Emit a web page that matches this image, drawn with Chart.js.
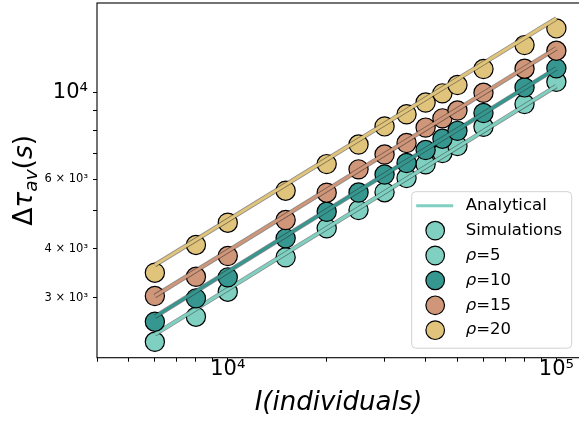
<!DOCTYPE html>
<html><head><meta charset="utf-8">
<script src="https://cdn.jsdelivr.net/npm/chart.js@4.4.0/dist/chart.umd.min.js"></script>
<style>html,body{margin:0;padding:0;overflow:hidden;background:#fff}#wrap{width:582px;height:423px}</style>
</head><body><div id="wrap"><canvas id="c" width="582" height="423"></canvas></div>
<script>
// ---- data ----
const xValues = [6000, 8000, 10000, 15000, 20000, 25000, 30000, 35000, 40000, 45000, 50000, 60000, 80000, 100000];
const sim5  = [2319, 2686, 3108, 3802, 4504, 5012, 5565, 6046, 6550, 7000, 7292, 8161, 9322, 10621];
const sim10 = [2608, 2990, 3381, 4248, 4963, 5555, 6171, 6601, 7124, 7609, 7970, 8843, 10278, 11487];
const sim15 = [3031, 3393, 3830, 4728, 5549, 6362, 6937, 7421, 8123, 8574, 8974, 9959, 11461, 12735];
const sim20 = [3474, 4086, 4655, 5614, 6561, 7356, 8180, 8781, 9404, 9924, 10418, 11440, 13164, 14516];
const anaX  = [6000, 100000];
const ana5  = [2422, 10356];
const ana10 = [2686, 11487];
const ana15 = [3031, 12915];
const ana20 = [3634, 15390];
const seriesLabels = ['ρ=5', 'ρ=10', 'ρ=15', 'ρ=20'];
const legendLabels = ['Analytical', 'Simulations', 'ρ=5', 'ρ=10', 'ρ=15', 'ρ=20'];
const xTickValues = [4000, 5000, 6000, 7000, 8000, 9000, 10000, 20000, 30000, 40000, 50000, 60000, 70000, 80000, 90000, 100000];
const xTickLabels = ['', '', '', '', '', '', '10⁴', '', '', '', '', '', '', '', '', '10⁵'];
const yTickValues = [3000, 4000, 5000, 6000, 7000, 8000, 9000, 10000];
const yTickLabels = ['3 × 10³', '4 × 10³', '', '6 × 10³', '', '', '', '10⁴'];
const xMin = 4000, xMax = 118000;
const yMin = 2113, yMax = 16840;
const xTitle = 'I(individuals)';
const yTitleParts = [['Δ', 'n'], ['τ', 'i'], ['av', 's'], ['(', 'n'], ['s', 'i'], [')', 'n']];

// ---- styles ----
const FONT = "'DejaVu Sans', sans-serif";
const C5 = '#7fd0c1', C10 = '#35978f', C15 = '#d09679', C20 = '#e0c47c';
const seriesColors = [C5, C10, C15, C20];
const legendColors = [C5, C5, C5, C10, C15, C20];

const sims = [sim5, sim10, sim15, sim20];
const anas = [ana5, ana10, ana15, ana20];
const pts = (xs, ys) => xs.map((x, i) => ({x: x, y: ys[i]}));

const datasets = [];
sims.forEach((s, i) => {
  datasets.push({label: seriesLabels[i], data: pts(xValues, s), showLine: false,
    pointRadius: 9.6, pointHoverRadius: 9.6, pointBackgroundColor: seriesColors[i],
    pointBorderColor: '#000', pointBorderWidth: 1.2, order: 100 - 4 * i});
  datasets.push({label: 'outline', data: pts(anaX, anas[i]), showLine: true, pointRadius: 0,
    borderColor: 'rgba(40,40,40,0.55)', borderWidth: 4.6, borderCapStyle: 'butt', order: 99 - 4 * i});
  datasets.push({label: 'Analytical', data: pts(anaX, anas[i]), showLine: true, pointRadius: 0,
    borderColor: seriesColors[i], borderWidth: 3, borderCapStyle: 'butt', order: 98 - 4 * i});
});

const framePlugin = {
  id: 'frame',
  afterDraw(chart) {
    const a = chart.chartArea, ctx = chart.ctx;
    ctx.save();
    ctx.strokeStyle = '#000'; ctx.lineWidth = 1.1;
    ctx.strokeRect(a.left, a.top, a.right - a.left, a.bottom - a.top);
    ctx.restore();
  }
};

const legendPlugin = {
  id: 'customLegend',
  afterDraw(chart) {
    const a = chart.chartArea, ctx = chart.ctx;
    const w = 160, h = 156.5;
    const right = a.right - 8.3, bottom = a.bottom - 9.5;
    const left = right - w, top = bottom - h;
    ctx.save();
    ctx.beginPath();
    if (ctx.roundRect) ctx.roundRect(left, top, w, h, 4); else ctx.rect(left, top, w, h);
    ctx.fillStyle = 'rgba(255,255,255,0.85)'; ctx.fill();
    ctx.strokeStyle = '#d2d2d2'; ctx.lineWidth = 1; ctx.stroke();
    legendLabels.forEach((lab, i) => {
      const y = top + 14 + i * 24.9;
      if (i === 0) {
        ctx.beginPath(); ctx.moveTo(left + 4.5, y); ctx.lineTo(left + 41.5, y);
        ctx.strokeStyle = legendColors[i]; ctx.lineWidth = 3; ctx.stroke();
      } else {
        ctx.beginPath(); ctx.arc(left + 23.5, y, 9.3, 0, Math.PI * 2);
        ctx.fillStyle = legendColors[i]; ctx.fill();
        ctx.strokeStyle = '#000'; ctx.lineWidth = 1.2; ctx.stroke();
      }
      ctx.fillStyle = '#000'; ctx.textBaseline = 'middle'; ctx.textAlign = 'left';
      let x = left + 54;
      if (lab.startsWith('ρ')) {
        ctx.font = 'italic 16.5px ' + FONT; ctx.fillText('ρ', x, y);
        x += ctx.measureText('ρ').width;
        ctx.font = '16.5px ' + FONT; ctx.fillText(lab.slice(1), x, y);
      } else {
        ctx.font = '16.5px ' + FONT; ctx.fillText(lab, x, y);
      }
    });
    ctx.restore();
  }
};

const yTitlePlugin = {
  id: 'yTitle',
  afterDraw(chart) {
    const a = chart.chartArea, ctx = chart.ctx;
    const size = 26.5, sub = 18.5;
    const fontFor = k => (k === 'i' || k === 's' ? 'italic ' : '') + (k === 's' ? sub : size) + 'px ' + FONT;
    ctx.save();
    let total = 0;
    yTitleParts.forEach(p => { ctx.font = fontFor(p[1]); total += ctx.measureText(p[0]).width; });
    const cy = (a.top + a.bottom) / 2;
    ctx.translate(31.5, cy + total / 2);
    ctx.rotate(-Math.PI / 2);
    ctx.fillStyle = '#000'; ctx.textBaseline = 'alphabetic'; ctx.textAlign = 'left';
    let x = 0;
    yTitleParts.forEach(p => {
      ctx.font = fontFor(p[1]);
      ctx.fillText(p[0], x, p[1] === 's' ? 5 : 0);
      x += ctx.measureText(p[0]).width;
    });
    ctx.restore();
  }
};

new Chart(document.getElementById('c'), {
  type: 'scatter',
  data: {datasets: datasets},
  plugins: [framePlugin, legendPlugin, yTitlePlugin],
  options: {
    responsive: false, animation: false, devicePixelRatio: 1,
    layout: {autoPadding: false, padding: {top: 3, right: 2, left: 0, bottom: 0}},
    plugins: {legend: {display: false}, tooltip: {enabled: false}},
    scales: {
      x: {
        type: 'logarithmic', min: xMin, max: xMax,
        afterBuildTicks: s => { s.ticks = xTickValues.map(v => ({value: v})); },
        afterFit: s => { s.height = 65.3; s.paddingLeft = 0; s.paddingRight = 0; s.paddingTop = 0; s.paddingBottom = 0; },
        ticks: {autoSkip: false, maxRotation: 0, minRotation: 0, padding: 0, color: '#000',
          font: {family: FONT, size: 21, lineHeight: 0.75},
          callback: v => xTickLabels[xTickValues.indexOf(v)]},
        grid: {display: true, drawOnChartArea: false, drawTicks: true, tickLength: 4, color: '#000', tickColor: '#000', lineWidth: 1},
        border: {display: false},
        title: {display: true, text: xTitle, color: '#000', font: {family: FONT, size: 26, style: 'italic'}, padding: {top: 0, bottom: 4}}
      },
      y: {
        type: 'logarithmic', min: yMin, max: yMax,
        afterBuildTicks: s => { s.ticks = yTickValues.map(v => ({value: v})); },
        afterFit: s => { s.width = 97; s.paddingLeft = 0; s.paddingRight = 0; s.paddingTop = 0; s.paddingBottom = 0; },
        ticks: {autoSkip: false, padding: 5, color: '#000',
          font: ctx => ({family: FONT, size: (ctx.tick && ctx.tick.value === 10000) ? 21 : 11.5}),
          callback: v => yTickLabels[yTickValues.indexOf(v)]},
        grid: {display: true, drawOnChartArea: false, drawTicks: true, tickLength: 4, color: '#000', tickColor: '#000', lineWidth: 1},
        border: {display: false},
        title: {display: false}
      }
    }
  }
});
</script>
</body></html>
